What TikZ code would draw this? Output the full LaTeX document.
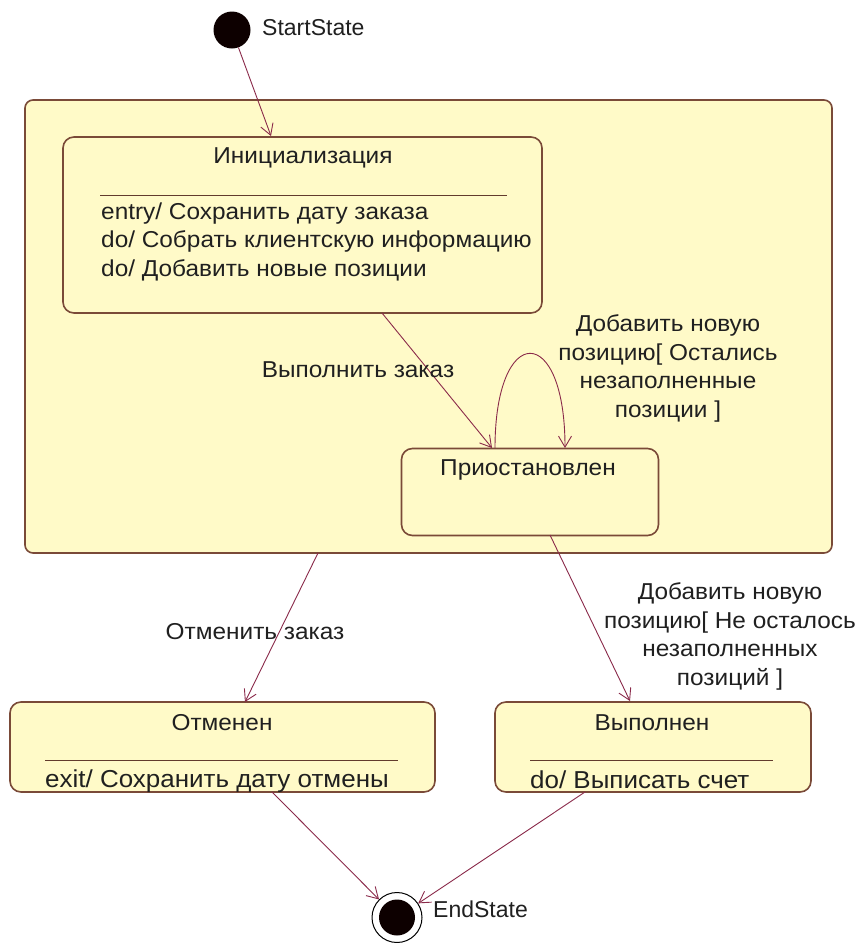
\documentclass[tikz,border=0pt]{standalone}
\usepackage{fontspec}
\setmainfont[FakeStretch=1.06]{Liberation Sans}
\newfontfamily\plainsans{Liberation Sans}
\usetikzlibrary{arrows.meta}
\definecolor{boxfill}{HTML}{FFFAC8}
\definecolor{boxline}{HTML}{7A4A38}
\definecolor{connline}{HTML}{8A2A4A}
\definecolor{txt}{HTML}{202020}
\begin{document}
\begin{tikzpicture}[x=1pt,y=-1pt,
  font=\fontsize{23}{28.5}\selectfont,
  statebox/.style={draw=boxline,line width=1.6pt,fill=boxfill,rounded corners=11pt,inner sep=0pt},
  conn/.style={draw=connline,line width=0.9pt,-{Straight Barb[length=11pt,width=13pt,line width=0.9pt]}},
  sepline/.style={draw=boxline!80!black,line width=1pt},
  lbl/.style={text=txt,inner sep=0pt},
  biglbl/.style={lbl,font=\fontsize{24.5}{29}\selectfont},
  dot/.style={circle,fill=black!95!red,inner sep=0pt}
]
\useasboundingbox (0,0) rectangle (859,943);
\fill[white] (0,0) rectangle (859,943);

% outer composite state
\node[statebox,rounded corners=8pt,minimum width=807pt,minimum height=453pt] (outer) at (428.5,326.5) {};

% initial state
\node[dot,minimum size=37pt] (start) at (232,30) {};
\node[lbl,anchor=west,font=\plainsans\fontsize{23}{28.5}\selectfont] (startlbl) at (262,28) {StartState};

% Инициализация
\node[statebox,minimum width=479pt,minimum height=176pt] (init) at (302.5,225) {};
\node[lbl] (inittitle) at (303,158) {Инициализация};
\draw[sepline] (100,195) -- (507,195);
\node[lbl,anchor=west,align=left] (inittext) at (101,241.5) {entry/ Сохранить дату заказа\\do/ Собрать клиентскую информацию\\do/ Добавить новые позиции};

% Приостановлен
\node[statebox,minimum width=257pt,minimum height=87pt] (pause) at (530,492) {};
\node[lbl] (pausetitle) at (528,470) {Приостановлен};

% Отменен
\node[statebox,minimum width=425pt,minimum height=90pt] (cancel) at (222.5,747) {};
\node[lbl] (canceltitle) at (222,723) {Отменен};
\draw[sepline] (45,760) -- (398,760);
\node[biglbl,anchor=west] (canceltext) at (45,781) {exit/ Сохранить дату отмены};

% Выполнен
\node[statebox,minimum width=316pt,minimum height=90pt] (done) at (653,747) {};
\node[lbl] (donetitle) at (652,723) {Выполнен};
\draw[sepline] (530,760) -- (773,760);
\node[biglbl,anchor=west] (donetext) at (530,780) {do/ Выписать счет};

% final state
\node[circle,draw=black,line width=1pt,fill=white,minimum size=50pt,inner sep=0pt] (end) at (397,917.5) {};
\node[dot,minimum size=36pt] (endin) at (end.center) {};
\node[lbl,anchor=west,font=\plainsans\fontsize{23}{28.5}\selectfont] (endlbl) at (433,909) {EndState};

% connector endpoints
\coordinate (a1) at (271,136);
\coordinate (b0) at (382,313);
\coordinate (b1) at (492,448);
\coordinate (l0) at (495,448);
\coordinate (l1) at (565,448);
\coordinate (c0) at (318,553);
\coordinate (c1) at (245,702);
\coordinate (d0) at (550,535);
\coordinate (d1) at (630,701);
\coordinate (e0) at (272,792);
\coordinate (f0) at (585,792);

% connectors
\draw[conn] (start) -- (a1);
\draw[conn] (b0) -- (b1);
\draw[conn] (l0) .. controls (495,322) and (565,322) .. (l1);
\draw[conn] (c0) -- (c1);
\draw[conn] (d0) -- (d1);
\draw[conn] (e0) -- (end);
\draw[conn] (f0) -- (end);

% labels
\node[lbl] (lblexec) at (358,370) {Выполнить заказ};
\node[lbl,align=center] (lblloop) at (668,368.5) {Добавить новую\\позицию[ Остались\\незаполненные\\позиции ]};
\node[lbl] (lblcancel) at (255,632) {Отменить заказ};
\node[lbl,align=center] (lbldone) at (730,636.5) {Добавить новую\\позицию[ Не осталось\\незаполненных\\позиций ]};
\end{tikzpicture}
\end{document}
